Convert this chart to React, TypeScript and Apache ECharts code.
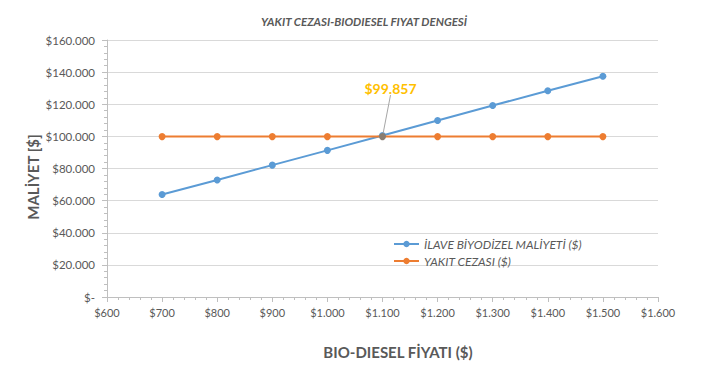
import React, { useEffect, useRef } from "react";
import * as echarts from "echarts";

const titleText = "YAKIT CEZASI-BIODIESEL FIYAT DENGESİ";
const xAxisTitle = "BIO-DIESEL FİYATI ($)";
const yAxisTitle = "MALİYET [$]";
const prices = [700, 800, 900, 1000, 1100, 1200, 1300, 1400, 1500];
const biodieselCost = [63800, 72800, 82100, 91300, 100500, 109900, 119200, 128400, 137400];
const fuelPenalty = [99857, 99857, 99857, 99857, 99857, 99857, 99857, 99857, 99857];
const seriesNames = ["İLAVE BİYODİZEL MALİYETİ ($)", "YAKIT CEZASI ($)"];
const annotationIndex = 4;
const annotationText = "$99.857";

const fmt = (v: number) => {
  if (v === 0) return "$-";
  return "$" + String(Math.round(v)).replace(/\B(?=(\d{3})+(?!\d))/g, ".");
};

const FONT = "Lato";
const GREY = "#595959";

export default function App() {
  const ref = useRef<HTMLDivElement>(null);
  useEffect(() => {
    document.body.style.margin = "0";
    const chart = echarts.init(ref.current!, null, { renderer: "svg" });
    chart.setOption({
      animation: false,
      backgroundColor: "#ffffff",
      textStyle: { fontFamily: FONT },
      title: {
        text: titleText,
        left: "center",
        top: 10,
        textStyle: { fontFamily: FONT, fontSize: 11.5, fontStyle: "italic", fontWeight: "bold", color: GREY },
      },
      grid: { left: 107, top: 40, width: 551, height: 257, containLabel: false },
      legend: {
        orient: "vertical",
        left: 388,
        top: 233,
        itemWidth: 25,
        itemHeight: 8,
        itemGap: 5,
        textStyle: { fontFamily: FONT, fontSize: 12, fontStyle: "italic", color: GREY },
        data: seriesNames,
      },
      xAxis: {
        type: "value",
        min: 600,
        max: 1600,
        interval: 100,
        axisLine: { lineStyle: { color: "#bfbfbf" } },
        axisTick: { show: true, length: 5, lineStyle: { color: "#bfbfbf" } },
        minorTick: { show: true, splitNumber: 5, length: 3, lineStyle: { color: "#bfbfbf" } },
        splitLine: { show: false },
        axisLabel: { formatter: fmt, color: GREY, fontSize: 11, fontFamily: FONT, margin: 10 },
      },
      yAxis: {
        type: "value",
        min: 0,
        max: 160000,
        interval: 20000,
        axisLine: { show: true, lineStyle: { color: "#bfbfbf" } },
        axisTick: { show: true, length: 5, lineStyle: { color: "#bfbfbf" } },
        minorTick: { show: true, splitNumber: 5, length: 3, lineStyle: { color: "#bfbfbf" } },
        splitLine: { show: true, lineStyle: { color: "#d9d9d9" } },
        axisLabel: { formatter: fmt, color: GREY, fontSize: 11.5, fontFamily: FONT, margin: 12 },
      },
      graphic: [
        {
          type: "text",
          x: 398,
          y: 352,
          style: { text: xAxisTitle, align: "center", verticalAlign: "middle", font: `bold 15px ${FONT}`, fill: GREY },
        },
        {
          type: "text",
          x: 33,
          y: 177,
          rotation: Math.PI / 2,
          style: { text: yAxisTitle, align: "center", verticalAlign: "middle", font: `bold 15px ${FONT}`, fill: GREY },
        },
      ],
      series: [
        {
          name: seriesNames[0],
          type: "line",
          data: prices.map((p, i) => [p, biodieselCost[i]]),
          symbol: "circle",
          symbolSize: 7,
          lineStyle: { width: 2, color: "#5B9BD5" },
          itemStyle: { color: "#5B9BD5" },
          z: 2,
        },
        {
          name: seriesNames[1],
          type: "line",
          data: prices.map((p, i) =>
            i === annotationIndex
              ? {
                  value: [p, fuelPenalty[i]],
                  itemStyle: { color: "#8a7d70" },
                  label: {
                    show: true,
                    formatter: annotationText,
                    position: "top",
                    color: "#FFC000",
                    fontSize: 14,
                    fontWeight: "bold",
                    fontFamily: FONT,
                  },
                  labelLine: { show: true, lineStyle: { color: "#a6a6a6", width: 1 } },
                }
              : [p, fuelPenalty[i]]
          ),
          labelLayout: { dx: 8, dy: -33 },
          labelLine: { show: true, lineStyle: { color: "#a6a6a6", width: 1 } },
          symbol: "circle",
          symbolSize: 7,
          lineStyle: { width: 2, color: "#ED7D31" },
          itemStyle: { color: "#ED7D31" },
          z: 3,
        },
      ],
    });
    return () => chart.dispose();
  }, []);
  return <div ref={ref} style={{ width: 728, height: 374 }} />;
}
